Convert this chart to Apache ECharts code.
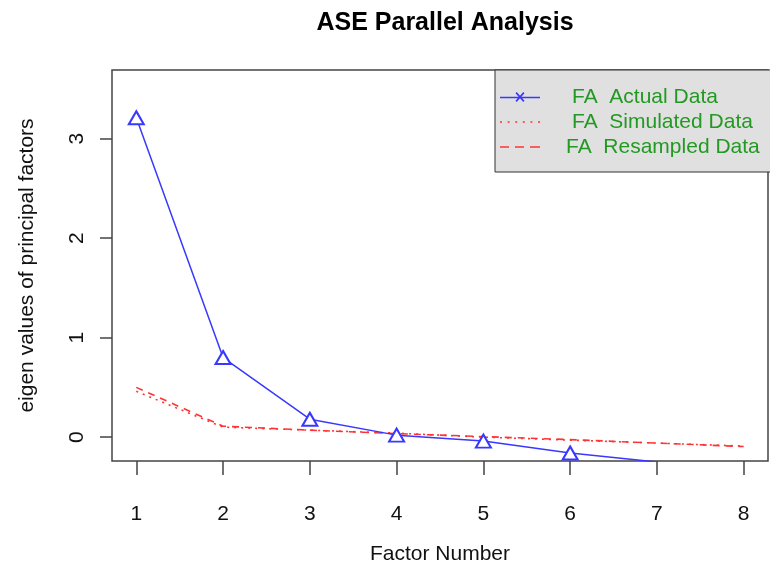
<!DOCTYPE html>
<html>
<head>
<meta charset="utf-8">
<title>ASE Parallel Analysis</title>
<script src="https://cdn.jsdelivr.net/npm/echarts@6/dist/echarts.min.js"></script>
<style>
  html, body { margin: 0; padding: 0; background: #fff; }
  #chart { width: 770px; height: 570px; }
</style>
</head>
<body>
<div id="chart"></div>
<script>
// factor numbers (x) and eigen values
const factors = [1, 2, 3, 4, 5, 6, 7, 8]
const actualData = [3.21, 0.8, 0.18, 0.02, -0.04, -0.16, -0.25]
const simulatedData = [0.46, 0.1, 0.07, 0.04, 0.0, -0.03, -0.06, -0.09]
const resampledData = [0.5, 0.11, 0.07, 0.035, 0.005, -0.025, -0.06, -0.095]
const xTicks = [1, 2, 3, 4, 5, 6, 7, 8]
const yTicks = [0, 1, 2, 3]
const seriesNames = ["FA  Actual Data", "FA  Simulated Data", "FA  Resampled Data"]

const FONT = "'Liberation Sans', Arial, Helvetica, sans-serif"

const toPairs = (vals) => vals.map((v, i) => [factors[i], v])

// legend icons: line with x / dotted / dashed (40 wide so they are not rescaled)
const iconActual = "path://M0,6h40v1.6h-40z M15.5,2.5L16.7,1.3L24.5,10L23.3,11.2Z M23.3,1.3L24.5,2.5L16.7,11.2L15.5,10Z"
const iconDotted = "path://M0,0h2v1.6h-2z M7.6,0h2v1.6h-2z M15.2,0h2v1.6h-2z M22.8,0h2v1.6h-2z M30.4,0h2v1.6h-2z M38,0h2v1.6h-2z"
const iconDashed = "path://M0,0h9v1.6h-9z M15,0h9v1.6h-9z M30,0h10v1.6h-10z"

const option = {
  animation: false,
  backgroundColor: "#fff",
  title: {
    text: "ASE Parallel Analysis",
    left: 440,
    top: 6,
    textAlign: "center",
    textStyle: { fontFamily: FONT, fontSize: 25, fontWeight: "bold", color: "#000" },
  },
  legend: {
    left: 495,
    top: 70,
    orient: "vertical",
    selectedMode: false,
    padding: [15, 12, 13, 5],
    itemGap: 1,
    itemWidth: 40,
    itemHeight: 14,
    backgroundColor: "#e0e0e0",
    borderColor: "#333",
    borderWidth: 1,
    itemStyle: { borderWidth: 0 },
    textStyle: { fontFamily: FONT, fontSize: 21, lineHeight: 24, color: "#229922" },
    data: [
      { name: seriesNames[0], icon: iconActual, textStyle: { padding: [0, 0, 0, 27] } },
      { name: seriesNames[1], icon: iconDotted, textStyle: { padding: [0, 0, 0, 27] } },
      { name: seriesNames[2], icon: iconDashed, textStyle: { padding: [0, 0, 0, 21] } },
    ],
  },
  grid: {
    left: 112,
    right: 2,
    top: 70,
    bottom: 107,
    show: true,
    borderColor: "#444",
    borderWidth: 1.5,
    backgroundColor: "transparent",
  },
  xAxis: {
    type: "value",
    min: 0.72,
    max: 8.28,
    name: "Factor Number",
    nameLocation: "middle",
    nameGap: 83,
    nameTextStyle: { fontFamily: FONT, fontSize: 21, color: "#111" },
    axisLine: { show: false, onZero: false },
    splitLine: { show: false },
    axisTick: { show: true, length: 14, customValues: xTicks, lineStyle: { color: "#444", width: 1.5 } },
    axisLabel: { customValues: xTicks, margin: 43, fontFamily: FONT, fontSize: 21, color: "#111" },
  },
  yAxis: {
    type: "value",
    min: -0.24,
    max: 3.69,
    name: "eigen values of principal factors",
    nameLocation: "middle",
    nameGap: 74,
    nameTextStyle: { fontFamily: FONT, fontSize: 21, color: "#111" },
    axisLine: { show: false, onZero: false },
    splitLine: { show: false },
    axisTick: { show: true, length: 12, customValues: yTicks, lineStyle: { color: "#444", width: 1.5 } },
    axisLabel: { customValues: yTicks, rotate: 90, margin: 24, fontFamily: FONT, fontSize: 21, color: "#111" },
  },
  series: [
    {
      name: seriesNames[0],
      type: "line",
      data: toPairs(actualData),
      color: "#3838ff",
      symbol: "emptyTriangle",
      symbolSize: [15, 13],
      lineStyle: { width: 1.5 },
      itemStyle: { borderWidth: 1.8 },
      z: 3,
    },
    {
      name: seriesNames[1],
      type: "line",
      data: toPairs(simulatedData),
      color: "#ff3333",
      symbol: "none",
      lineStyle: { width: 1.6, type: [2, 5] },
      z: 2,
    },
    {
      name: seriesNames[2],
      type: "line",
      data: toPairs(resampledData),
      color: "#ff3333",
      symbol: "none",
      lineStyle: { width: 1.6, type: [7, 6] },
      z: 2,
    },
  ],
}

const chart = echarts.init(document.getElementById("chart"))
chart.setOption(option)
</script>
</body>
</html>
